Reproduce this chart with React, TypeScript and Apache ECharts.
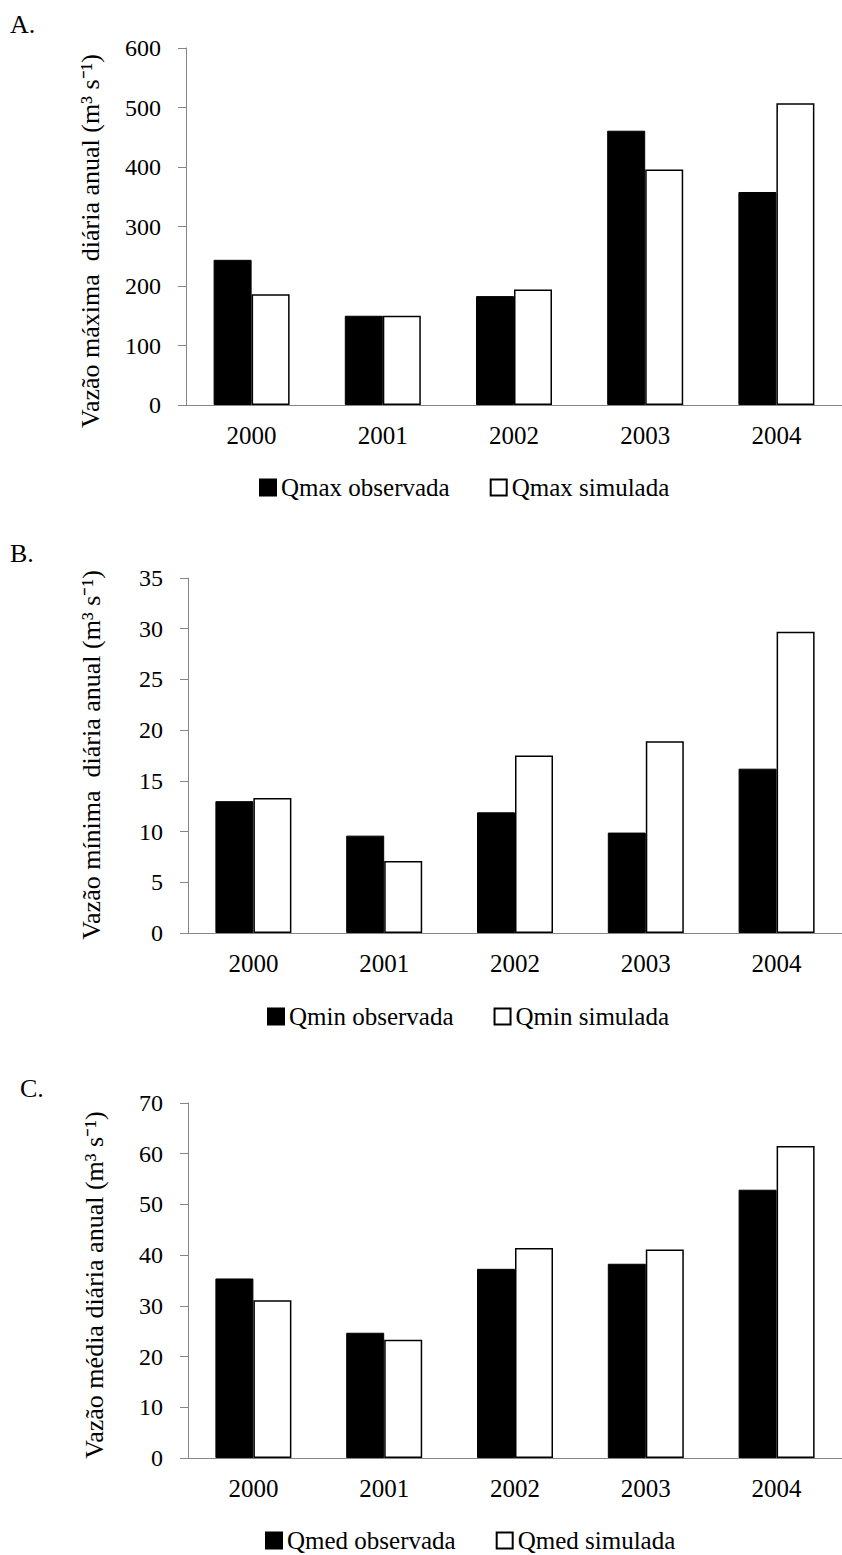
import React, { useEffect, useRef } from "react";
import * as echarts from "echarts";

const years = ["2000", "2001", "2002", "2003", "2004"];
const qmaxObs = [244, 150, 183, 461, 358];
const qmaxSim = [186, 150, 194, 396, 507];
const qminObs = [13.0, 9.6, 11.9, 9.9, 16.2];
const qminSim = [13.3, 7.1, 17.5, 18.9, 29.7];
const qmedObs = [35.4, 24.7, 37.3, 38.3, 52.9];
const qmedSim = [31.1, 23.3, 41.4, 41.1, 61.5];

const panelLetters = ["A.", "B.", "C."];
const yTitles = [
  "Vazão máxima  diária anual (m³ s⁻¹)",
  "Vazão mínima  diária anual (m³ s⁻¹)",
  "Vazão média diária anual (m³ s⁻¹)",
];
const legendNames = [
  ["Qmax observada", "Qmax simulada"],
  ["Qmin observada", "Qmin simulada"],
  ["Qmed observada", "Qmed simulada"],
];
const yMax = [600, 35, 70];
const yStep = [100, 5, 10];

const FONT = "'Liberation Serif', 'Times New Roman', serif";
const AXIS_GRAY = "#868686";

export default function App() {
  const ref = useRef<HTMLDivElement>(null);
  useEffect(() => {
    if (!ref.current) return;
    const chart = echarts.init(ref.current, null, { renderer: "svg" });
    const grids = [
      { left: 186, top: 48, height: 357, width: 657 },
      { left: 188, top: 578, height: 355, width: 658 },
      { left: 188, top: 1103, height: 355, width: 658 },
    ];
    const obsData = [qmaxObs, qminObs, qmedObs];
    const simData = [qmaxSim, qminSim, qmedSim];
    const legendPos = [
      { left: 259, top: 475 },
      { left: 267, top: 1004 },
      { left: 265, top: 1528 },
    ];
    const titlePos = [
      { x: 90, y: 241 },
      { x: 91, y: 755 },
      { x: 94, y: 1285 },
    ];
    const letterPos = [
      { x: 10, y: 11 },
      { x: 10, y: 540 },
      { x: 20, y: 1075 },
    ];

    const xAxis = grids.map((_, i) => ({
      type: "category",
      gridIndex: i,
      data: years,
      axisLine: { lineStyle: { color: AXIS_GRAY, width: 1 } },
      axisTick: { length: 7, lineStyle: { color: AXIS_GRAY } },
      axisLabel: { color: "#000", fontFamily: FONT, fontSize: 25, margin: 18 },
    }));
    const yAxis = grids.map((_, i) => ({
      type: "value",
      gridIndex: i,
      min: 0,
      max: yMax[i],
      interval: yStep[i],
      splitLine: { show: false },
      axisLine: { show: true, lineStyle: { color: AXIS_GRAY, width: 1 } },
      axisTick: { show: true, length: 8, lineStyle: { color: AXIS_GRAY } },
      axisLabel: { color: "#000", fontFamily: FONT, fontSize: 24, margin: 25 },
    }));
    const series: any[] = [];
    grids.forEach((_, i) => {
      series.push({
        type: "bar",
        name: legendNames[i][0],
        xAxisIndex: i,
        yAxisIndex: i,
        data: obsData[i],
        barWidth: 38,
        barGap: "0%",
        itemStyle: { color: "#000", borderColor: "#000", borderWidth: 1 },
      });
      series.push({
        type: "bar",
        name: legendNames[i][1],
        xAxisIndex: i,
        yAxisIndex: i,
        data: simData[i],
        barWidth: 38,
        barGap: "0%",
        itemStyle: { color: "#fff", borderColor: "#000", borderWidth: 1.5 },
      });
    });
    const legend = grids.map((_, i) => ({
      data: legendNames[i].map((n) => ({ name: n, icon: "rect" })),
      left: legendPos[i].left,
      top: legendPos[i].top,
      itemWidth: 16,
      itemHeight: 16,
      itemGap: 40,
      padding: 0,
      textStyle: { color: "#000", fontFamily: FONT, fontSize: 25 },
      selectedMode: false,
    }));
    const graphic: any[] = [];
    grids.forEach((_, i) => {
      graphic.push({
        type: "text",
        x: letterPos[i].x,
        y: letterPos[i].y,
        style: { text: panelLetters[i], font: `26px ${FONT}`, fill: "#000" },
      });
      graphic.push({
        type: "text",
        x: titlePos[i].x,
        y: titlePos[i].y,
        rotation: Math.PI / 2,
        style: {
          text: yTitles[i],
          font: `26px ${FONT}`,
          fill: "#000",
          textAlign: "center",
          textVerticalAlign: "middle",
        },
      });
    });
    chart.setOption({
      animation: false,
      backgroundColor: "#fff",
      grid: grids,
      xAxis,
      yAxis,
      series,
      legend,
      graphic,
    });
    return () => chart.dispose();
  }, []);
  return (
    <div
      ref={ref}
      style={{ position: "absolute", left: 0, top: 0, width: 842, height: 1555 }}
    />
  );
}
